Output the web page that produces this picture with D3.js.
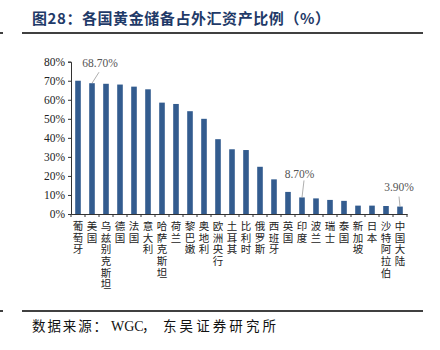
<!DOCTYPE html>
<html><head><meta charset="utf-8">
<script src="https://cdn.jsdelivr.net/npm/d3@7/dist/d3.min.js"></script>
<style>body{margin:0;background:#fff}svg{display:block}</style>
</head><body><svg id="c" width="440" height="350"></svg>
<script>
const categories = ["葡萄牙","美国","乌兹别克斯坦","德国","法国","意大利","哈萨克斯坦","荷兰","黎巴嫩","奥地利","欧洲央行","土耳其","比利时","俄罗斯","西班牙","英国","印度","波兰","瑞士","泰国","新加坡","日本","沙特阿拉伯","中国大陆"];
const values = [70.0,68.7,68.4,68.0,66.9,65.5,58.5,57.8,54.0,50.0,39.3,34.0,33.6,24.8,18.2,11.6,8.7,8.2,7.4,6.9,4.4,4.4,4.2,3.9];
const yTicks = [0,10,20,30,40,50,60,70,80];
const annotated = [{cat:"美国",label:"68.70%"},{cat:"印度",label:"8.70%"},{cat:"中国大陆",label:"3.90%"}];

const svg = d3.select("#c");
const cjk = "'Noto Sans CJK SC', sans-serif";
const serif = "'Liberation Serif', 'DejaVu Serif', serif";

// title
svg.append("text").attr("x",32).attr("y",24).attr("fill","#1f3a68")
  .attr("font-family",cjk).attr("font-weight","bold").attr("font-size",15)
  .attr("textLength",298).attr("lengthAdjust","spacing")
  .text("图28：各国黄金储备占外汇资产比例（%）");
svg.append("line").attr("x1",22).attr("x2",423).attr("y1",33).attr("y2",33).attr("stroke","#000").attr("stroke-width",1.5);
svg.append("line").attr("x1",0).attr("x2",3).attr("y1",33).attr("y2",33).attr("stroke","#000").attr("stroke-width",1.5);
svg.append("line").attr("x1",22).attr("x2",423).attr("y1",311).attr("y2",311).attr("stroke","#000").attr("stroke-width",1.5);
svg.append("line").attr("x1",0).attr("x2",3).attr("y1",311).attr("y2",311).attr("stroke","#000").attr("stroke-width",1.5);
const foot = svg.append("g").attr("fill","#111").attr("font-size",13.5);
foot.append("text").attr("x",32).attr("y",331).attr("font-family",cjk)
  .attr("textLength",75).attr("lengthAdjust","spacing").text("数据来源：");
foot.append("text").attr("x",111).attr("y",331).attr("font-family",serif).attr("font-size",14).text("WGC");
foot.append("text").attr("x",142).attr("y",331).attr("font-family",cjk).text("，");
foot.append("text").attr("x",163).attr("y",331).attr("font-family",cjk)
  .attr("textLength",113).attr("lengthAdjust","spacing").text("东吴证券研究所");

const x = d3.scaleBand().domain(categories).range([71,407]).paddingInner(0.6).paddingOuter(0.3);
const y = d3.scaleLinear().domain([0,80]).range([214,61.7]);

// y axis
const ya = svg.append("g").attr("transform","translate(71,0)")
  .call(d3.axisLeft(y).tickValues(yTicks).tickFormat(d=>d+"%").tickSize(3).tickPadding(3));
ya.select(".domain").attr("stroke","#333");
ya.selectAll(".tick line").attr("stroke","#333");
ya.selectAll("text").attr("font-family",serif).attr("font-size",11.5).attr("fill","#222");

// x axis
const xa = svg.append("g").attr("transform","translate(0,214)")
  .call(d3.axisBottom(x).tickSize(0).tickFormat(""));
xa.select(".domain").attr("stroke","#333");
const step = x.step();
const bounds = d3.range(categories.length+1).map(i=>71+i*step);
svg.append("g").selectAll("line").data(bounds).join("line")
  .attr("x1",d=>d).attr("x2",d=>d).attr("y1",214).attr("y2",217).attr("stroke","#333");

// bars
svg.append("g").selectAll("rect").data(values).join("rect")
  .attr("x",(d,i)=>x(categories[i])).attr("width",x.bandwidth())
  .attr("y",d=>y(d)).attr("height",d=>214-y(d)).attr("fill","#335c8f");

// vertical category labels
svg.append("g").selectAll("text").data(categories).join("text")
  .attr("x",c=>x(c)+x.bandwidth()/2).attr("y",221)
  .attr("font-family",cjk).attr("font-size",10.5).attr("fill","#222")
  .style("writing-mode","vertical-rl").style("text-orientation","upright")
  .attr("letter-spacing",1.1)
  .text(c=>c);

// annotations
const offs = {"美国":{dx:7,dy:-11,tx:8,ty:-16},"印度":{dx:2,dy:-17,tx:-2.5,ty:-19.5},"中国大陆":{dx:-1,dy:-10,tx:-1,ty:-15.6}};
annotated.forEach(a=>{
  const i = categories.indexOf(a.cat);
  const cx = x(a.cat)+x.bandwidth()/2, cy = y(values[i]);
  const o = offs[a.cat];
  svg.append("line").attr("x1",cx).attr("y1",cy).attr("x2",cx+o.dx).attr("y2",cy+o.dy).attr("stroke","#999").attr("stroke-width",0.8);
  svg.append("text").attr("x",cx+o.tx).attr("y",cy+o.ty).attr("text-anchor","middle")
    .attr("font-family",serif).attr("font-size",11.5).attr("fill","#555").text(a.label);
});
</script></body></html>
